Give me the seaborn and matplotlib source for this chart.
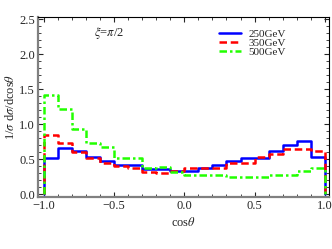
import numpy as np
import pandas as pd
import seaborn as sns
import matplotlib.pyplot as plt
from matplotlib.ticker import MultipleLocator

# bins of cos(theta), width 0.1
edges = np.round(np.arange(-1.0, 1.0001, 0.1), 2)

e250 = [0.51, 0.66, 0.61, 0.53, 0.47, 0.41, 0.42, 0.36, 0.36, 0.33,
        0.33, 0.38, 0.42, 0.48, 0.51, 0.52, 0.62, 0.70, 0.76, 0.53]
e350 = [0.84, 0.73, 0.60, 0.52, 0.44, 0.40, 0.38, 0.32, 0.30, 0.33,
        0.37, 0.38, 0.38, 0.45, 0.45, 0.53, 0.58, 0.64, 0.64, 0.62]
e500 = [1.41, 1.22, 0.93, 0.73, 0.68, 0.51, 0.51, 0.37, 0.39, 0.32,
        0.27, 0.28, 0.27, 0.25, 0.24, 0.25, 0.27, 0.27, 0.33, 0.38]

series = {'250GeV': e250, '350GeV': e350, '500GeV': e500}

rows = []
for lab, vals in series.items():
    xs = [edges[0]] + list(edges)
    ys = [0.0] + list(vals) + [0.0]
    for i, (x, y) in enumerate(zip(xs, ys)):
        rows.append({'x': x, 'y': y, 'E': lab, 'i': i})
df = pd.DataFrame(rows)

sns.set_style('ticks')
plt.rcParams['font.family'] = ['Liberation Serif', 'DejaVu Serif']
plt.rcParams['mathtext.fontset'] = 'stix'

fig = plt.figure(figsize=(3.32, 2.49), dpi=100)
ax = fig.add_axes([0.114, 0.209, 0.877, 0.723])

styles = {'250GeV': ('#0000ff', '-'), '350GeV': ('#ff0000', (0, (3, 1.5))),
          '500GeV': ('#22ff00', (0, (3, 1.2, 1, 1.2)))}
for lab in series:
    c, ls = styles[lab]
    sns.lineplot(data=df[df.E == lab], x='x', y='y', sort=False, estimator=None,
                 drawstyle='steps-post', color=c, linestyle=ls, lw=1.8,
                 label=lab, ax=ax)

ax.set_xlim(-1.043, 1.03)
ax.set_ylim(-0.04, 2.53)
ax.xaxis.set_major_locator(MultipleLocator(0.5))
ax.xaxis.set_minor_locator(MultipleLocator(0.1))
ax.yaxis.set_major_locator(MultipleLocator(0.5))
ax.yaxis.set_minor_locator(MultipleLocator(0.1))
ax.tick_params(which='both', direction='in', top=True, right=True, labelsize=9,
               pad=2)
ax.tick_params(which='major', length=3.5, width=0.8)
ax.tick_params(which='minor', length=2, width=0.6)

for s in ['left', 'bottom']:
    ax.spines[s].set_color('#808080')
    ax.spines[s].set_linewidth(1.6)
for s in ['top', 'right']:
    ax.spines[s].set_color('black')
    ax.spines[s].set_linewidth(0.8)

ax.set_xlabel(r'cos$\theta$', fontsize=9, labelpad=3)
ax.set_ylabel(r'1/$\sigma$ d$\sigma$/dcos$\theta$', fontsize=9, labelpad=2)
ax.text(-0.64, 2.3, r'$\xi$=$\pi$/2', fontsize=9, va='center')

leg = ax.legend(loc='upper right', bbox_to_anchor=(0.875, 0.97), frameon=False,
                fontsize=8, handlelength=2.0, handletextpad=0.7,
                labelspacing=-0.05, borderaxespad=0.2)

fig.savefig('out.png', dpi=100)
